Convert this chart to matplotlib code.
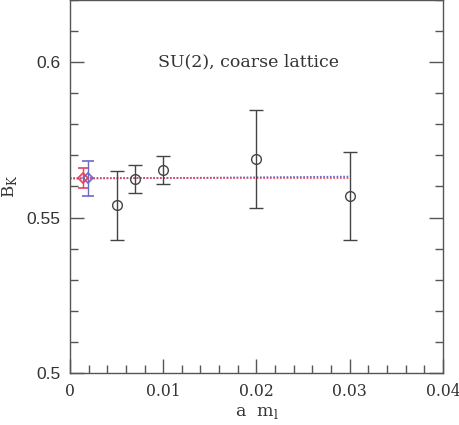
import matplotlib
matplotlib.use("Agg")
import matplotlib.pyplot as plt
from matplotlib.ticker import MultipleLocator

# data points (a m_l, B_K, lower, upper)
am = [0.005, 0.007, 0.010, 0.020, 0.030]
bk = [0.5540, 0.5624, 0.5653, 0.5689, 0.5569]
bk_lo = [0.5428, 0.5579, 0.5608, 0.5531, 0.5428]
bk_hi = [0.5650, 0.5669, 0.5698, 0.5846, 0.5711]

# extrapolated values
red_x, red_y, red_lo, red_hi = 0.0014, 0.5627, 0.5594, 0.5658
blue_x, blue_y, blue_lo, blue_hi = 0.0019, 0.5627, 0.5569, 0.5682

# fit lines
fit_x = [0.0, 0.030]
red_fit = [0.5627, 0.5627]
blue_fit = [0.5625, 0.5632]

gray = "#555555"
red = "#e8405a"
blue = "#6a6ac8"

fig = plt.figure(figsize=(4.6, 4.25), dpi=100)
ax = fig.add_axes([0.152, 0.1224, 0.811, 0.8776])

ax.plot(fit_x, blue_fit, linestyle=(0, (1, 1)), color=blue, lw=1.2)
ax.plot(fit_x, red_fit, linestyle=(0, (1, 1)), color=red, lw=1.2)

yerr = [[b - l for b, l in zip(bk, bk_lo)], [h - b for b, h in zip(bk, bk_hi)]]
ax.errorbar(am, bk, yerr=yerr, fmt="o", mfc="none", mec="#444444", ecolor="#444444",
            ms=7, mew=1, capsize=5, elinewidth=1, capthick=1)

ax.errorbar([blue_x], [blue_y], yerr=[[blue_y - blue_lo], [blue_hi - blue_y]], fmt="D",
            mfc="none", mec=blue, ecolor=blue, ms=5, mew=1.2, capsize=4.5, elinewidth=1)
ax.errorbar([red_x], [red_y], yerr=[[red_y - red_lo], [red_hi - red_y]], fmt="D",
            mfc="none", mec=red, ecolor=red, ms=5, mew=1.2, capsize=3.5, elinewidth=1)

ax.set_xlim(0, 0.04)
ax.set_ylim(0.5, 0.62)
ax.xaxis.set_major_locator(MultipleLocator(0.01))
ax.xaxis.set_minor_locator(MultipleLocator(0.002))
ax.yaxis.set_major_locator(MultipleLocator(0.05))
ax.yaxis.set_minor_locator(MultipleLocator(0.01))
ax.set_yticks([0.5, 0.55, 0.6])
ax.set_yticklabels(["0.5", "0.55", "0.6"], family="Liberation Sans", fontsize=12.5, color="#333333")
ax.set_xticks([0, 0.01, 0.02, 0.03, 0.04])
ax.set_xticklabels(["0", "0.01", "0.02", "0.03", "0.04"], family="DejaVu Serif", fontsize=11.3, color="#333333")

ax.tick_params(which="both", direction="in", right=True, top=False, color=gray, width=1)
ax.tick_params(which="major", length=10, pad=7)
ax.tick_params(which="minor", length=6)
for s in ax.spines.values():
    s.set_color(gray)
    s.set_linewidth(1)

ax.set_xlabel(r"a  m$_\mathregular{l}$", family="DejaVu Serif", fontsize=12.5, color="#333333", labelpad=3)
ax.set_ylabel(r"B$_\mathregular{K}$", family="DejaVu Serif", fontsize=12, color="#333333", labelpad=5)
ax.text(0.0191, 0.6, "SU(2), coarse lattice", family="DejaVu Serif", fontsize=12.5,
        color="#333333", ha="center", va="center")

fig.savefig("out.png", dpi=100)
